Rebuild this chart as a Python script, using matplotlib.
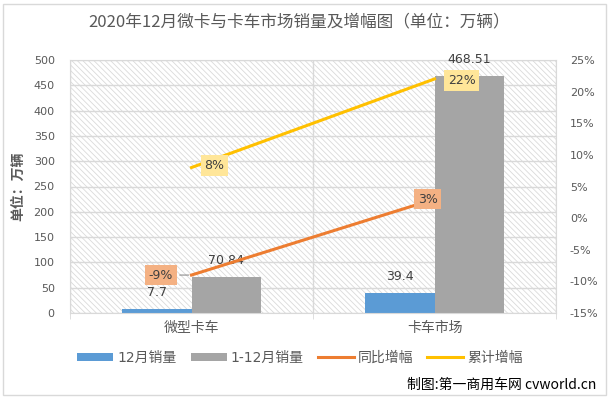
import matplotlib.pyplot as plt
from matplotlib.patches import Rectangle
from matplotlib.ticker import FuncFormatter
import numpy as np

# 数据
categories = ['微型卡车', '卡车市场']
dec_sales = [7.7, 39.4]
ytd_sales = [70.84, 468.51]
yoy_growth = [-9, 3]
ytd_growth = [8, 22]

plt.rcParams['font.family'] = ['DejaVu Sans', 'Noto Sans CJK SC']
plt.rcParams['hatch.linewidth'] = 0.6

TXT = '#595959'
GRID = '#D9D9D9'

fig = plt.figure(figsize=(6.1, 3.99), dpi=100, facecolor='white')
ax = fig.add_axes([70 / 610, 86 / 399, 486 / 610, 253 / 399])
ax2 = ax.twinx()

# 背景斜线
ax.add_patch(Rectangle((0, 0), 1, 1, transform=ax.transAxes, facecolor='white',
                       edgecolor='#DADADA', hatch='\\' * 6, lw=0, zorder=0.1))

x = np.arange(len(categories))
w = 0.284
b1 = ax.bar(x - w / 2, dec_sales, w, color='#5B9BD5', label='12月销量', zorder=2)
b2 = ax.bar(x + w / 2, ytd_sales, w, color='#A5A5A5', label='1-12月销量', zorder=2)

for rects, vals in ((b1, dec_sales), (b2, ytd_sales)):
    for r, v in zip(rects, vals):
        ax.annotate(f'{v:g}', (r.get_x() + r.get_width() / 2, v), xytext=(0, 7),
                    textcoords='offset points', ha='center', va='bottom',
                    fontsize=9, color='#404040', zorder=5)

ax.set_xlim(-0.5, 1.5)
ax.set_ylim(0, 500)
ax.set_yticks(np.arange(0, 501, 50))
ax.set_xticks(x)
ax.set_xticklabels(categories, fontsize=10, color=TXT, family=['Noto Sans CJK SC'])
ax.set_xticks([-0.5, 0.5, 1.5], minor=True)
ax.tick_params(axis='x', which='major', length=0, pad=6)
ax.tick_params(axis='x', which='minor', length=4, color=GRID)
ax.tick_params(axis='y', length=0, pad=11, labelsize=8, labelcolor=TXT)
ax.set_axisbelow(True)
ax.grid(axis='y', color=GRID, lw=1)
ax.grid(axis='x', which='minor', color=GRID, lw=1)
for s in ax.spines.values():
    s.set_color(GRID)
ax.set_ylabel('单位：万辆', fontsize=10, fontweight='bold', color=TXT,
              family=['Noto Sans CJK SC'], labelpad=6)

# 增幅折线
l1, = ax2.plot(x, yoy_growth, color='#ED7D31', lw=2.2, label='同比增幅', zorder=3)
l2, = ax2.plot(x, ytd_growth, color='#FFC000', lw=2.2, label='累计增幅', zorder=3)
ax2.set_ylim(-15, 25)
ax2.set_yticks(np.arange(-15, 26, 5))
ax2.yaxis.set_major_formatter(FuncFormatter(lambda v, p: f'{v:.0f}%'))
ax2.tick_params(axis='y', length=0, pad=10, labelsize=8, labelcolor=TXT)
for s in ax2.spines.values():
    s.set_visible(False)

offsets_yoy = [(-22, 0), (-5, 0)]
offsets_ytd = [(16.5, 1.5), (19.5, -1)]
for xi, v, off in zip(x, yoy_growth, offsets_yoy):
    arrow = dict(arrowstyle='-', color='#7F7F7F', lw=0.7) if off[0] < -10 else None
    ax2.annotate(f'{v}%', (xi, v), xytext=off, textcoords='offset points',
                 ha='center', va='center', fontsize=9, color='#404040',
                 bbox=dict(boxstyle='square,pad=0.3', fc='#F4B183', ec='none'),
                 arrowprops=arrow, zorder=6)
for xi, v, off in zip(x, ytd_growth, offsets_ytd):
    ax2.annotate(f'{v}%', (xi, v), xytext=off, textcoords='offset points',
                 ha='center', va='center', fontsize=9, color='#404040',
                 bbox=dict(boxstyle='square,pad=0.3', fc='#FFE699', ec='none'),
                 zorder=6)

fig.text(0.49, 0.945, '2020年12月微卡与卡车市场销量及增幅图（单位：万辆）',
         ha='center', va='center', fontsize=12, color=TXT, family=['Noto Sans CJK SC'])

fig.legend(handles=[b1, b2, l1, l2], loc='center', bbox_to_anchor=(0.492, 0.103),
           ncol=4, frameon=False, fontsize=10, handlelength=2.6, handleheight=0.6,
           handletextpad=0.3, columnspacing=1.0,
           prop={'family': ['DejaVu Sans', 'Noto Sans CJK SC'], 'size': 10})
for t in fig.legends[0].get_texts():
    t.set_color(TXT)

fig.text(0.978, 0.035, '制图:第一商用车网 cvworld.cn', ha='right', va='center',
         fontsize=10, color='black', family=['Noto Sans CJK SC'])

fig.patches.append(Rectangle((3 / 610, 4 / 399), 603 / 610, 391 / 399,
                             transform=fig.transFigure, fill=False,
                             edgecolor=GRID, lw=1))

fig.savefig('out.png', dpi=100)
